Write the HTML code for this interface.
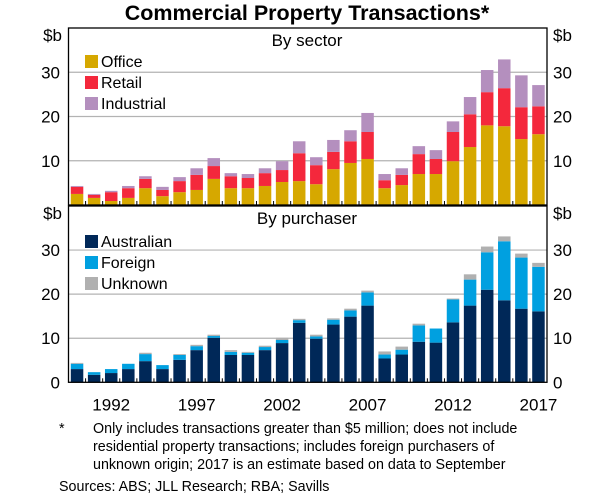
<!DOCTYPE html>
<html><head><meta charset="utf-8"><style>
body{margin:0;background:#fff;width:616px;height:498px;overflow:hidden;font-family:"Liberation Sans",Arial,sans-serif}
svg text{font-family:"Liberation Sans",Arial,sans-serif}
</style></head><body>
<svg id="chart" width="616" height="498" viewBox="0 0 616 498" xmlns="http://www.w3.org/2000/svg">
<text x="307" y="20" text-anchor="middle" font-size="21.5" font-weight="bold">Commercial Property Transactions*</text>
<g id="plots"></g>
<text x="59" y="433" font-size="14.3">*</text>
<text x="93" y="433" font-size="14.3">Only includes transactions greater than $5 million; does not include</text>
<text x="93" y="451" font-size="14.3">residential property transactions; includes foreign purchasers of</text>
<text x="93" y="469" font-size="14.3">unknown origin; 2017 is an estimate based on data to September</text>
<text x="59" y="491" font-size="14.3">Sources:   ABS; JLL Research; RBA; Savills</text>
</svg>
<script>
const years=[1990,1991,1992,1993,1994,1995,1996,1997,1998,1999,2000,2001,2002,2003,2004,2005,2006,2007,2008,2009,2010,2011,2012,2013,2014,2015,2016,2017];
const tickYears=[1992,1997,2002,2007,2012,2017];
const yTicks=[0,10,20,30];
const office=[2.5,1.6,0.9,1.6,3.8,2.0,2.9,3.4,5.9,3.8,3.8,4.3,5.2,5.4,4.7,8.1,9.5,10.4,3.8,4.5,7.0,7.0,9.9,13.1,18.0,17.8,14.9,16.0];
const retail=[1.6,0.7,2.0,2.2,2.1,1.4,2.5,3.4,2.9,2.7,2.3,2.9,2.7,6.3,4.3,3.9,4.9,6.1,1.8,2.3,4.5,3.4,6.6,7.4,7.5,8.6,7.2,6.3];
const industrial=[0.2,0.2,0.3,0.5,0.6,0.7,0.9,1.5,1.8,0.7,0.9,1.1,2.0,2.7,1.8,2.7,2.5,4.3,1.4,1.5,1.8,2.0,2.4,3.9,5.0,6.5,7.2,4.8];
const australian=[3.0,1.7,2.1,3.0,4.8,3.0,5.1,7.3,10.1,6.2,6.2,7.3,8.9,13.5,9.9,13.1,14.9,17.4,5.4,6.3,9.2,9.0,13.6,17.4,21.0,18.6,16.7,16.1];
const foreign=[1.2,0.6,0.9,1.2,1.6,0.9,1.1,0.9,0.4,0.7,0.5,0.7,0.7,0.6,0.5,1.1,1.4,3.0,0.9,1.1,3.7,3.2,5.2,5.9,8.5,13.4,11.6,10.1];
const unknown=[0.2,0.0,0.0,0.0,0.3,0.0,0.2,0.3,0.3,0.4,0.2,0.3,0.5,0.3,0.4,0.3,0.4,0.4,0.7,0.7,0.4,0.0,0.2,1.2,1.3,1.1,0.9,0.9];

const NS='http://www.w3.org/2000/svg';
const root=document.getElementById('plots');
const X0=68.5,X1=547,slot=(X1-X0)/years.length,bw=12.5;
function xCenter(i){return X0+slot*(i+0.5);}
function xYear(y){return xCenter(years.indexOf(y));}
function mk(tag,attrs,parent){const e=document.createElementNS(NS,tag);for(const k in attrs)e.setAttribute(k,attrs[k]);(parent||root).appendChild(e);return e;}

function panel(key,top,bottom,title,series,names,colors,showYears,legOff){
  const yScale=v=>bottom-(v/40)*(bottom-top);
  const g=mk('g',{});
  
  
  yTicks.forEach(t=>{
    if(t>0){const l=mk('line',{x1:X0,x2:X1,y1:yScale(t),y2:yScale(t),stroke:'#b3b3b3','stroke-width':1.2},g);
      
      }
    if(t===0 && !showYears) return;
    const a=mk('text',{x:60,y:yScale(t)+6,'text-anchor':'end','font-size':17},g);a.textContent=t;
    
    
    const b=mk('text',{x:553,y:yScale(t)+6,'font-size':17},g);b.textContent=t;
    
    
  });
  const u1=mk('text',{x:62,y:top+13,'text-anchor':'end','font-size':17},g);u1.textContent='$b';
  
  
  const u2=mk('text',{x:553,y:top+13,'font-size':17},g);u2.textContent='$b';
  
  
  years.forEach((yr,i)=>{
    let cum=0;
    series.forEach((s,k)=>{
      const v=s[i];if(v<=0)return;
      const r=mk('rect',{x:xCenter(i)-bw/2,y:yScale(cum+v),width:bw,height:yScale(cum)-yScale(cum+v),fill:colors[k]},g);
      
      
      cum+=v;
    });
  });
  const fr=mk('rect',{x:X0,y:top,width:X1-X0,height:bottom-top,fill:'none',stroke:'#000','stroke-width':1.3},g);
  
  
  years.forEach((yr,i)=>{
    const tk=mk('line',{x1:xCenter(i)+slot/2,x2:xCenter(i)+slot/2,y1:bottom,y2:bottom-4,stroke:'#000'},g);
    
    
  });
  const tt=mk('text',{x:307,y:top+18,'text-anchor':'middle','font-size':17},g);tt.textContent=title;
  
  
  names.forEach((n,k)=>{
    const ly=top+legOff+k*21;
    const sw=mk('rect',{x:85,y:ly,width:13,height:13,fill:colors[k]},g);
    
    
    const lt=mk('text',{x:101,y:ly+12,'font-size':16},g);lt.textContent=n;
    
    
  });
  if(showYears){
    tickYears.forEach(y=>{
      const t=mk('text',{x:xYear(y),y:bottom+28,'text-anchor':'middle','font-size':17},g);t.textContent=y;
      
      
    });
  }
}
panel('sector',28,205,'By sector',[office,retail,industrial],['Office','Retail','Industrial'],['#d6a800','#f4283c','#b48fbe'],false,27);
panel('purchaser',206,382.3,'By purchaser',[australian,foreign,unknown],['Australian','Foreign','Unknown'],['#002858','#00a0e0','#b0b0b0'],true,29);
</script>
</body></html>
